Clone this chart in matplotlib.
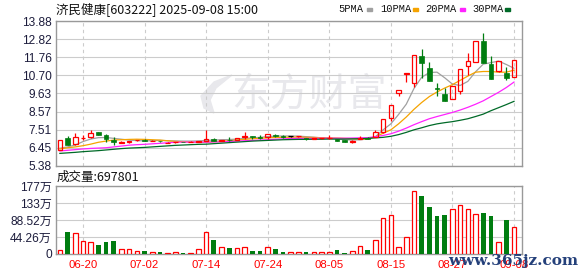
import matplotlib
matplotlib.use('Agg')
import matplotlib.pyplot as plt
from matplotlib.patches import Rectangle, Polygon
import numpy as np
import pandas as pd

W, H = 578, 276

# 60 trading days, 2025-06-17 .. 2025-09-08
dates = pd.bdate_range('2025-06-17', '2025-09-08')

opens = [6.34, 7.02, 6.67, 7.00, 7.08, 7.37, 7.22, 6.90, 6.72, 6.80,
         6.88, 6.92, 6.84, 6.86, 6.72, 6.76, 6.80, 6.78, 6.80, 6.83,
         6.98, 6.87, 6.92, 6.92, 7.08, 7.12, 7.08, 7.10, 7.22, 7.14,
         7.12, 7.12, 7.02, 6.98, 7.00, 7.00, 6.96, 6.92, 6.80, 6.98,
         7.05, 7.10, 7.36, 8.19, 9.64, 10.80, 10.25, 11.83, 11.13, 9.93,
         9.60, 9.33, 9.76, 11.22, 11.49, 12.69, 11.38, 10.93, 10.83, 10.58]
highs = [6.92, 7.12, 7.33, 7.18, 7.49, 7.38, 7.27, 7.08, 6.85, 6.87,
         6.90, 6.94, 6.88, 6.87, 6.76, 6.80, 6.81, 6.82, 6.86, 7.47,
         7.00, 6.92, 7.10, 7.05, 7.37, 7.13, 7.17, 7.28, 7.25, 7.18,
         7.13, 7.16, 7.03, 7.02, 7.03, 7.22, 6.98, 6.93, 6.88, 7.12,
         7.08, 7.49, 8.14, 8.94, 9.83, 10.81, 11.89, 12.26, 11.46, 10.25,
         9.95, 10.05, 11.05, 11.99, 12.69, 13.18, 11.81, 11.52, 11.17, 11.59]
lows = [6.30, 6.59, 6.62, 6.92, 7.02, 7.17, 6.77, 6.63, 6.70, 6.75,
        6.86, 6.82, 6.82, 6.80, 6.70, 6.74, 6.76, 6.77, 6.78, 6.82,
        6.85, 6.85, 6.85, 6.90, 6.98, 6.96, 6.98, 6.96, 7.10, 7.04,
        7.10, 7.10, 6.90, 6.96, 6.98, 6.98, 6.84, 6.78, 6.73, 6.95,
        6.96, 7.08, 7.30, 8.04, 9.47, 10.29, 9.99, 10.54, 10.35, 9.47,
        9.17, 9.30, 9.62, 10.73, 11.45, 11.44, 10.48, 10.87, 10.44, 10.58]
closes = [6.90, 6.63, 7.06, 7.03, 7.30, 7.18, 6.96, 6.77, 6.80, 6.82,
          6.90, 6.83, 6.86, 6.82, 6.74, 6.79, 6.78, 6.80, 6.84, 6.96,
          6.86, 6.90, 6.88, 7.02, 7.14, 7.08, 7.05, 7.26, 7.12, 7.08,
          7.12, 7.14, 6.98, 7.00, 7.01, 7.04, 6.85, 6.79, 6.85, 7.05,
          6.98, 7.36, 8.14, 8.94, 9.83, 10.81, 11.89, 11.44, 10.35, 9.90,
          9.17, 10.05, 11.05, 11.52, 12.69, 11.44, 10.48, 11.52, 10.54, 11.59]
# volume in 万 shares
volume = [10.4, 57, 54, 34, 31, 23.4, 31, 34, 12, 12,
          7, 8, 5, 5, 2.6, 5, 2.6, 2.6, 12, 57,
          36.5, 17.4, 14.8, 14.8, 18, 8, 8, 17, 13, 5,
          4, 4.3, 6.1, 4.3, 4.3, 4.3, 10.4, 2.6, 7.8, 20,
          10.4, 36.5, 93, 101.6, 17.4, 43.4, 164, 152, 122, 99,
          101.6, 116, 127.6, 116, 105, 106.8, 99, 31, 88.5, 69.78]

ma5 = [6.42, 6.50, 6.61, 6.81, 6.96, 7.04, 7.05, 7.00, 6.95, 6.90,
       6.87, 6.85, 6.86, 6.88, 6.86, 6.85, 6.84, 6.84, 6.85, 6.88,
       6.90, 6.92, 6.93, 6.96, 7.00, 7.03, 7.06, 7.10, 7.13, 7.14,
       7.14, 7.13, 7.10, 7.07, 7.03, 7.00, 6.96, 6.92, 6.90, 6.92,
       6.96, 7.10, 7.50, 7.85, 8.40, 9.00, 9.92, 10.58, 10.86, 10.88,
       10.55, 10.18, 10.10, 10.34, 10.90, 11.35, 11.44, 11.53, 11.33, 11.11]
ma10 = [6.38, 6.45, 6.50, 6.57, 6.66, 6.77, 6.84, 6.90, 6.92, 6.94,
        6.95, 6.94, 6.92, 6.90, 6.86, 6.82, 6.80, 6.78, 6.77, 6.77,
        6.80, 6.83, 6.86, 6.90, 6.94, 6.98, 7.00, 7.03, 7.05, 7.06,
        7.07, 7.07, 7.06, 7.05, 7.04, 7.03, 7.02, 7.00, 6.98, 6.96,
        6.97, 7.10, 7.30, 7.50, 7.85, 8.25, 8.70, 9.10, 9.45, 9.72,
        9.95, 10.15, 10.40, 10.65, 10.88, 10.92, 10.92, 10.88, 10.88, 11.00]
ma20 = [6.26, 6.30, 6.34, 6.38, 6.41, 6.43, 6.45, 6.50, 6.55, 6.60,
        6.63, 6.65, 6.68, 6.71, 6.74, 6.77, 6.78, 6.78, 6.78, 6.78,
        6.79, 6.80, 6.82, 6.84, 6.86, 6.88, 6.90, 6.92, 6.95, 6.97,
        6.99, 7.00, 7.00, 7.00, 7.01, 7.01, 7.01, 7.01, 7.02, 7.03,
        7.04, 7.10, 7.17, 7.27, 7.42, 7.60, 7.80, 7.98, 8.15, 8.28,
        8.40, 8.52, 8.66, 8.82, 9.00, 9.20, 9.45, 9.70, 9.98, 10.30]
ma30 = [6.12, 6.15, 6.18, 6.22, 6.25, 6.28, 6.32, 6.36, 6.40, 6.43,
        6.45, 6.47, 6.50, 6.53, 6.56, 6.59, 6.61, 6.63, 6.65, 6.66,
        6.69, 6.72, 6.75, 6.78, 6.81, 6.84, 6.86, 6.88, 6.90, 6.92,
        6.93, 6.94, 6.94, 6.95, 6.95, 6.96, 6.96, 6.96, 6.97, 6.98,
        7.00, 7.03, 7.06, 7.12, 7.22, 7.35, 7.50, 7.62, 7.75, 7.85,
        7.92, 7.98, 8.06, 8.15, 8.28, 8.42, 8.62, 8.80, 8.98, 9.17]

price_ticks = [5.38, 6.45, 7.51, 8.57, 9.63, 10.70, 11.76, 12.82, 13.88]
vol_ticks = [0, 44.26, 88.52, 133, 177]
vol_labels = ['0', '44.26万', '88.52万', '133万', '177万']
label_idx = [3, 11, 19, 27, 35, 43, 51, 59]

RED = '#ff0000'
GREEN = '#007d10'
MA_COLORS = ['#a0a0a0', '#f5a300', '#ff22ff', '#006a28']
GRID = '#cccccc'
TXT = '#1c1c3c'
WM = '#e8e8ec'

plt.rcParams['font.family'] = ['Liberation Sans', 'Noto Sans CJK SC']

fig = plt.figure(figsize=(W / 100, H / 100), dpi=100)

def fx(x):
    return x / W

def fy(y):
    return 1 - y / H

left, right = 56, 521.7
ax = fig.add_axes([fx(left), fy(166), (right - left) / W, 145 / H])
axv = fig.add_axes([fx(left), fy(254), (right - left) / W, 68 / H])

x = np.arange(len(dates))
o = np.array(opens); h = np.array(highs); l = np.array(lows); c = np.array(closes)
up = c > o
dn = c < o
flat = c == o

for a in (ax, axv):
    a.set_xlim(-0.5, 60)
    a.set_xticks(label_idx)
    a.grid(axis='x', color=GRID, linestyle=(0, (3, 3)), linewidth=0.8)
    a.grid(axis='y', color=GRID, linestyle='-', linewidth=0.8)
    a.set_axisbelow(True)
    a.tick_params(length=0, labelsize=8.6, colors=TXT, pad=3)
    for s in a.spines.values():
        s.set_color('#999999')
        s.set_linewidth(1)

# watermark logo + text (behind grid)
ax.text(fx(309), fy(95), '东方财富', transform=fig.transFigure, ha='center',
        va='center', fontsize=28, color=WM, family=['Noto Sans CJK SC'], zorder=0)
leaf = [(232, 75), (214, 82), (201, 96), (204, 108), (214, 113),
        (210, 100), (216, 88)]
ax.add_patch(Polygon([(fx(px), fy(py)) for px, py in leaf], closed=True,
                     transform=fig.transFigure, color=WM, zorder=0))

# price panel
ax.set_ylim(5.38, 13.88)
ax.set_yticks(price_ticks)
ax.set_yticklabels(['%.2f' % v for v in price_ticks])
ax.set_xticklabels([])

for vals, col in zip([ma5, ma10, ma20, ma30], MA_COLORS):
    ax.plot(x, vals, color=col, linewidth=0.9, zorder=2)

bw = 0.6
# up candles: hollow red
ax.bar(x[up], (c - o)[up], bottom=o[up], width=bw, facecolor='none',
       edgecolor=RED, linewidth=0.9, zorder=3)
ax.vlines(x[up], c[up], h[up], color=RED, linewidth=0.9, zorder=3)
ax.vlines(x[up], l[up], o[up], color=RED, linewidth=0.9, zorder=3)
# down candles: filled green
ax.vlines(x[dn], l[dn], h[dn], color=GREEN, linewidth=0.9, zorder=3)
ax.bar(x[dn], (o - c)[dn], bottom=c[dn], width=bw, color=GREEN,
       edgecolor=GREEN, linewidth=0.5, zorder=3)
# doji
ax.vlines(x[flat], l[flat], h[flat], color='black', linewidth=0.9, zorder=3)
ax.hlines(o[flat], x[flat] - bw / 2, x[flat] + bw / 2, color='black',
          linewidth=0.9, zorder=3)

# volume panel
vol = np.array(volume)
vup = c >= o
axv.set_ylim(0, 177)
axv.set_yticks(vol_ticks)
axv.set_yticklabels(vol_labels)
axv.bar(x[vup], vol[vup], width=bw, facecolor='white', edgecolor=RED,
        linewidth=0.9, zorder=3)
axv.bar(x[~vup], vol[~vup], width=bw, color=GREEN, zorder=3)
axv.set_xticklabels([dates[i].strftime('%m-%d') for i in label_idx],
                    color=RED, fontsize=8.2)
axv.tick_params(axis='x', pad=4)

# header texts
fig.text(fx(56), fy(9), '济民健康[603222] 2025-09-08 15:00', ha='left', va='center',
         fontsize=9, color='#111111', family=['Noto Sans CJK SC', 'DejaVu Sans'])
fig.text(fx(57), fy(177), '成交量:697801', ha='left', va='center',
         fontsize=9, color='#111111', family=['Noto Sans CJK SC', 'DejaVu Sans'])

legend_items = [('5PMA', 338, 367), ('10PMA', 380, 413),
                ('20PMA', 425, 460), ('30PMA', 472, 505)]
for (name, tx, bx), col in zip(legend_items, MA_COLORS):
    fig.text(fx(tx), fy(9), name, ha='left', va='center', fontsize=7.5,
             color='#111111', family=['Liberation Mono'])
    fig.patches.append(Rectangle((fx(bx), fy(11)), 5 / W, 3.5 / H,
                                 transform=fig.transFigure, color=col))

fig.text(fx(513), fy(261), 'www.365jz.com', ha='center', va='center',
         fontsize=11, fontweight='bold', color='#24407a', family=['DejaVu Serif'])

fig.savefig('out.png', dpi=100)
